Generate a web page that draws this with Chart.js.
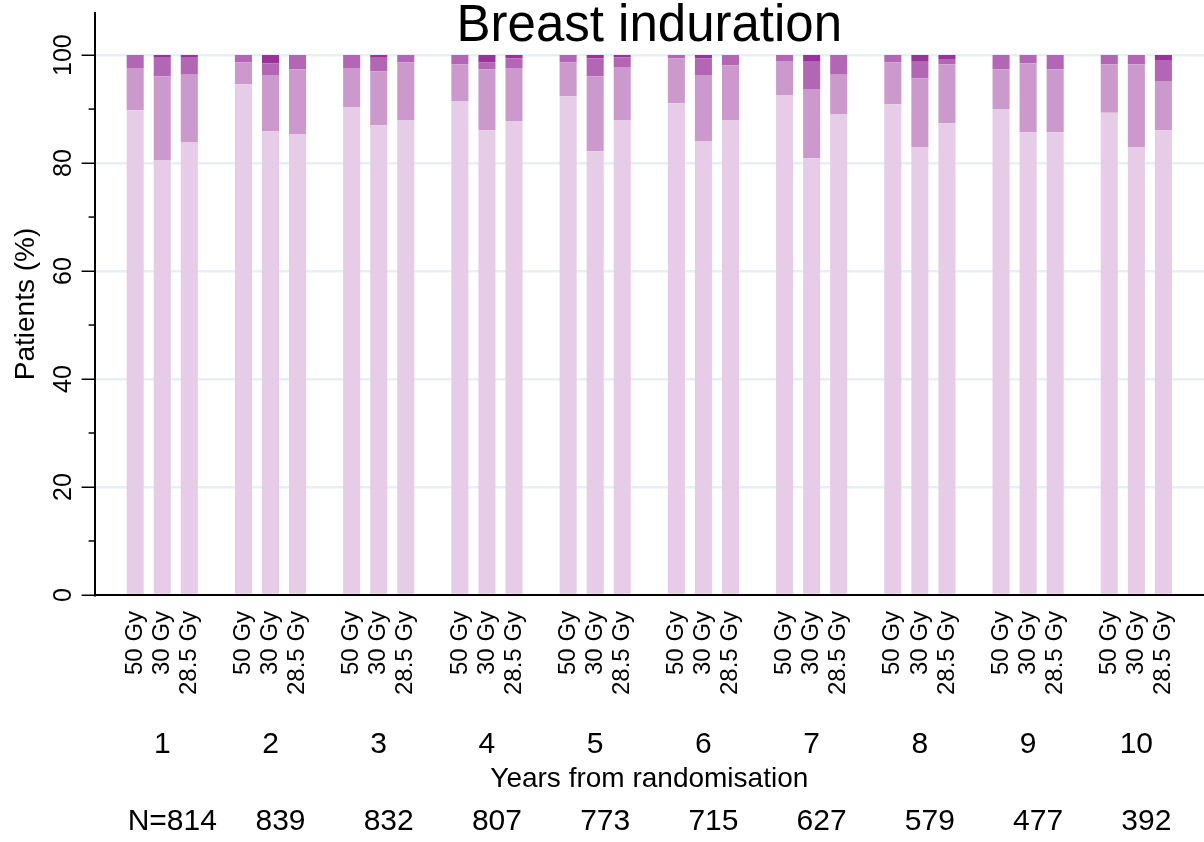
<!DOCTYPE html>
<html>
<head>
<meta charset="utf-8">
<title>Breast induration</title>
<script src="https://cdn.jsdelivr.net/npm/chart.js@4/dist/chart.umd.min.js"></script>
<style>
  html, body { margin: 0; padding: 0; background: #fff; }
  #wrap { width: 1204px; height: 842px; position: relative; }
</style>
</head>
<body>
<div id="wrap"><canvas id="indurationChart"></canvas></div>
<script>
// values (% of patients per grade)
const years = ['1', '2', '3', '4', '5', '6', '7', '8', '9', '10'];
const doses = ['50 Gy', '30 Gy', '28.5 Gy'];
const nPatients = [814, 839, 832, 807, 773, 715, 627, 579, 477, 392];
const yTicks = [0, 20, 40, 60, 80, 100];
const yMinorTicks = [10, 30, 50, 70, 90];

// order: year 1 (50, 30, 28.5 Gy), year 2 (...), ...
const noneVals = [
    89.8, 80.5, 83.9,   94.6, 85.9, 85.4,   90.4, 87.0, 88.0,   91.5, 86.1, 87.8,
    92.4, 82.2, 88.0,   91.1, 84.1, 88.0,   92.6, 80.9, 89.1,   90.9, 83.0, 87.4,
    90.0, 85.7, 85.7,   89.3, 83.0, 86.1
];
const mildVals = [
    7.8, 15.6, 12.6,    4.1, 10.4, 12.0,    7.2, 10.0, 10.7,    6.8, 11.3, 9.8,
    6.3, 13.9, 9.8,     8.3, 12.2, 10.1,    6.3, 12.8, 7.4,     7.8, 12.7, 10.9,
    7.4, 12.8, 11.7,    9.0, 15.3, 9.1
];
const moderateVals = [
    2.4, 3.4, 3.0,      1.3, 2.2, 2.6,      2.4, 2.5, 1.3,      1.7, 1.3, 1.8,
    1.3, 3.3, 1.8,      0.6, 3.1, 1.9,      1.1, 5.2, 3.5,      1.3, 3.2, 1.0,
    2.6, 1.5, 2.6,      1.7, 1.7, 3.9
];
const markedVals = [
    0, 0.5, 0.5,        0, 1.5, 0,          0, 0.5, 0,          0, 1.3, 0.6,
    0, 0.6, 0.4,        0, 0.6, 0,          0, 1.1, 0,          0, 1.1, 0.7,
    0, 0, 0,            0, 0, 0.9
];

const FONT = "'Liberation Sans', Arial, sans-serif";

// one empty slot before the first group and after every group
let doseLabels = [''];
let yearLabels = [''];
let nLabels = [''];
years.forEach((yr, g) => {
    doses.forEach((d, i) => {
        doseLabels.push(d);
        yearLabels.push(i === 1 ? yr : '');
        nLabels.push(i === 1 ? (g === 0 ? 'N=' : '') + nPatients[g] : '');
    });
    doseLabels.push('');
    yearLabels.push('');
    nLabels.push('');
});

function spread (vals) {
    let out = [null];
    for (let g = 0; g < years.length; g++) {
        out.push(vals[g * 3], vals[g * 3 + 1], vals[g * 3 + 2]);
        out.push(null);
    }
    return out;
}

function noPad (scale) {
    scale.paddingLeft = 0;
    scale.paddingRight = 0;
    scale.paddingTop = 0;
    scale.paddingBottom = 0;
}

const minorTickPlugin = {
    id: 'minorTicks',
    afterDraw (chart) {
        const ys = chart.scales.y;
        const ctx = chart.ctx;
        ctx.save();
        ctx.strokeStyle = '#000';
        ctx.lineWidth = 1.5;
        yMinorTicks.forEach(v => {
            const py = ys.getPixelForValue(v);
            ctx.beginPath();
            ctx.moveTo(ys.right - 6, py);
            ctx.lineTo(ys.right, py);
            ctx.stroke();
        });
        ctx.restore();
    }
};

const barOpts = { barPercentage: 0.63, categoryPercentage: 1, borderWidth: 0 };

const chartData = {
    labels: doseLabels,
    datasets: [
        Object.assign({ label: 'None', data: spread(noneVals), backgroundColor: '#e6cce6' }, barOpts),
        Object.assign({ label: 'Mild', data: spread(mildVals), backgroundColor: '#cc99cc' }, barOpts),
        Object.assign({ label: 'Moderate', data: spread(moderateVals), backgroundColor: '#b366b3' }, barOpts),
        Object.assign({ label: 'Marked', data: spread(markedVals), backgroundColor: '#993399' }, barOpts)
    ]
};

new Chart(document.getElementById('indurationChart'), {
    type: 'bar',
    data: chartData,
    plugins: [minorTickPlugin],
    options: {
        responsive: true,
        maintainAspectRatio: false,
        animation: false,
        layout: { padding: { left: 9, right: 0, top: 0, bottom: 1 } },
        plugins: {
            legend: { display: false },
            tooltip: { enabled: false },
            title: {
                display: true,
                text: 'Breast induration',
                fullSize: false,
                color: '#000',
                font: { family: FONT, size: 51, weight: 'normal', lineHeight: 1 },
                padding: { top: 1, bottom: -39 }
            }
        },
        scales: {
            x: {
                stacked: true,
                offset: true,
                afterFit: noPad,
                grid: { display: false, drawTicks: false },
                border: { display: true, color: '#000', width: 2 },
                ticks: {
                    autoSkip: false,
                    minRotation: 90,
                    maxRotation: 90,
                    padding: 16,
                    color: '#000',
                    font: { family: FONT, size: 24 }
                }
            },
            x2: {
                type: 'category',
                position: 'bottom',
                labels: yearLabels,
                offset: true,
                afterFit: noPad,
                grid: { display: false, drawTicks: false },
                border: { display: false },
                ticks: {
                    autoSkip: false,
                    minRotation: 0,
                    maxRotation: 0,
                    padding: 16,
                    color: '#000',
                    font: { family: FONT, size: 30 }
                },
                title: {
                    display: true,
                    text: 'Years from randomisation',
                    color: '#000',
                    font: { family: FONT, size: 28 },
                    padding: { top: -16.8, bottom: 7.2 }
                }
            },
            x3: {
                type: 'category',
                position: 'bottom',
                labels: nLabels,
                offset: true,
                afterFit: noPad,
                grid: { display: false, drawTicks: false },
                border: { display: false },
                ticks: {
                    autoSkip: false,
                    minRotation: 0,
                    maxRotation: 0,
                    padding: 1,
                    labelOffset: 10,
                    color: '#000',
                    font: { family: FONT, size: 30 }
                }
            },
            y: {
                stacked: true,
                min: 0,
                max: 107.8,
                afterFit: noPad,
                afterBuildTicks: scale => {
                    scale.ticks = yTicks.map(v => ({ value: v }));
                },
                grid: {
                    color: c => (c.tick && c.tick.value > 0) ? '#e6eff1' : 'rgba(0,0,0,0)',
                    lineWidth: 2.5,
                    tickColor: '#000',
                    tickLength: 13,
                    tickWidth: 1.5
                },
                border: { display: true, color: '#000', width: 2 },
                ticks: {
                    minRotation: 90,
                    maxRotation: 90,
                    crossAlign: 'center',
                    padding: -3,
                    color: '#000',
                    font: { family: FONT, size: 25 }
                },
                title: {
                    display: true,
                    text: 'Patients (%)',
                    color: '#000',
                    font: { family: FONT, size: 28 },
                    padding: { top: 0, bottom: 15 }
                }
            }
        }
    }
});
</script>
</body>
</html>
